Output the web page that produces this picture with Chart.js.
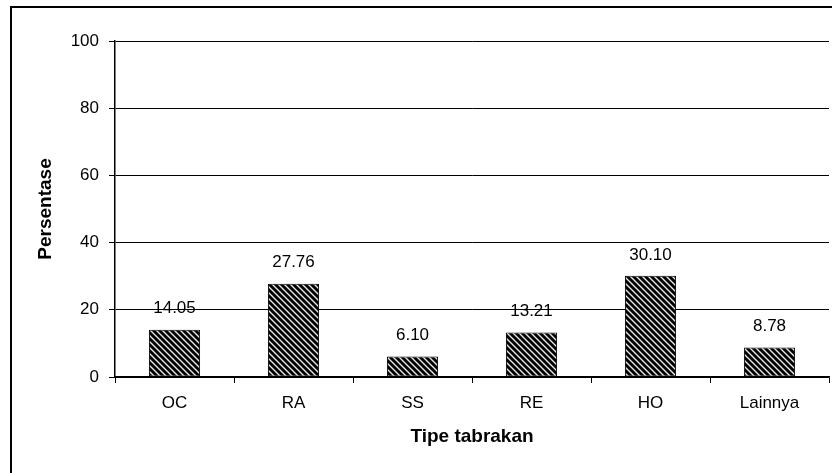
<!DOCTYPE html>
<html>
<head>
<meta charset="utf-8">
<script src="https://cdn.jsdelivr.net/npm/chart.js@4/dist/chart.umd.min.js"></script>
<style>
  body { margin: 0; background: #fff; }
  canvas { display: block; }
</style>
</head>
<body>
<canvas id="grafik" width="832" height="473"></canvas>
<script>
// Data tipe tabrakan (persentase)
const kategori = ['OC', 'RA', 'SS', 'RE', 'HO', 'Lainnya'];
const persentase = [14.05, 27.76, 6.10, 13.21, 30.10, 8.78];
const tickY = [0, 20, 40, 60, 80, 100];

const FONT = 'Arial, "Liberation Sans", sans-serif';

// Pola arsir diagonal untuk batang
function buatPola() {
  const s = 6;
  const c = document.createElement('canvas');
  c.width = s; c.height = s;
  const g = c.getContext('2d');
  const img = g.createImageData(s, s);
  for (let y = 0; y < s; y++) {
    for (let x = 0; x < s; x++) {
      const d = ((x - y) % s + s) % s;
      let v = 0;
      if (d === 0) v = 235;
      else if (d === 1 || d === 5) v = 110;
      const i = (y * s + x) * 4;
      img.data[i] = v; img.data[i + 1] = v; img.data[i + 2] = v; img.data[i + 3] = 255;
    }
  }
  g.putImageData(img, 0, 0);
  return g.createPattern(c, 'repeat');
}

// Bingkai luar grafik
const bingkai = {
  id: 'bingkai',
  beforeDraw(chart) {
    const ctx = chart.ctx;
    ctx.save();
    ctx.fillStyle = '#fff';
    ctx.fillRect(0, 0, chart.width, chart.height);
    ctx.strokeStyle = '#000';
    ctx.lineWidth = 2;
    ctx.strokeRect(11, 7, 900, 900);
    ctx.restore();
  }
};

// Label nilai di atas batang
const labelNilai = {
  id: 'labelNilai',
  afterDatasetsDraw(chart) {
    const ctx = chart.ctx;
    const meta = chart.getDatasetMeta(0);
    ctx.save();
    ctx.font = '17px ' + FONT;
    ctx.fillStyle = '#000';
    ctx.textAlign = 'center';
    ctx.textBaseline = 'middle';
    meta.data.forEach((bar, i) => {
      ctx.fillText(persentase[i].toFixed(2), bar.x, bar.y - 21);
    });
    ctx.restore();
  }
};

const ctx = document.getElementById('grafik').getContext('2d');
const grafik = new Chart(ctx, {
  type: 'bar',
  data: {
    labels: kategori,
    datasets: [{
      data: persentase,
      backgroundColor: buatPola(),
      borderColor: '#000',
      borderWidth: 1,
      borderSkipped: false,
      barPercentage: 0.43,
      categoryPercentage: 1
    }]
  },
  options: {
    responsive: false,
    animation: false,
    layout: { padding: { left: 0, top: 41, right: 3, bottom: 0 } },
    plugins: {
      legend: { display: false },
      tooltip: { enabled: false }
    },
    scales: {
      x: {
        offset: true,
        afterFit: (scale) => { scale.height = 96; },
        grid: {
          offset: true,
          drawOnChartArea: true,
          color: (c) => c.index === kategori.length ? '#555' : 'rgba(0,0,0,0)',
          tickColor: '#000',
          tickLength: 6,
          lineWidth: 1
        },
        border: { color: '#000', width: 1.5 },
        ticks: {
          color: '#000',
          font: { family: FONT, size: 17 },
          padding: 10,
          maxRotation: 0
        },
        title: {
          display: true,
          text: 'Tipe tabrakan',
          color: '#000',
          font: { family: FONT, size: 19, weight: 'bold' },
          padding: { top: 0, bottom: 25 }
        }
      },
      y: {
        min: 0,
        max: 100,
        afterFit: (scale) => { scale.width = 115; },
        afterBuildTicks: (scale) => { scale.ticks = tickY.map(v => ({ value: v })); },
        grid: {
          color: '#000',
          tickColor: '#000',
          tickLength: 6,
          lineWidth: 1
        },
        border: { color: '#000', width: 1.5 },
        ticks: {
          color: '#000',
          font: { family: FONT, size: 17 },
          padding: 10
        },
        title: {
          display: true,
          text: 'Persentase',
          color: '#000',
          font: { family: FONT, size: 19, weight: 'bold' },
          padding: { top: 34, bottom: 0 }
        }
      }
    }
  },
  plugins: [bingkai, labelNilai]
});
</script>
</body>
</html>
